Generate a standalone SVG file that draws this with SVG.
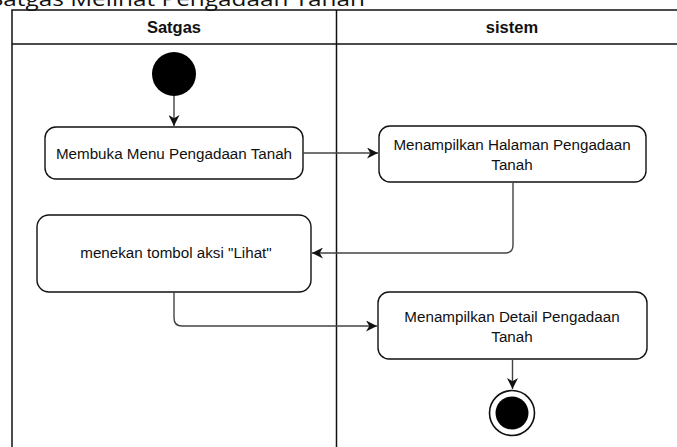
<svg xmlns="http://www.w3.org/2000/svg" width="677" height="447" viewBox="0 0 677 447">
  <style>
    .lane { fill: none; stroke: #111; stroke-width: 1.5; }
    .head { font-family: "Liberation Sans", Arial, sans-serif; font-size: 16.5px; font-weight: bold; fill: #111; text-anchor: middle; }
    .act rect { fill: #fff; stroke: #111; stroke-width: 1.4; }
    .act text { font-family: "Liberation Sans", Arial, sans-serif; font-size: 15.2px; fill: #111; text-anchor: middle; }
    .flow { fill: none; stroke: #444; stroke-width: 1.4; }
    .title { font-family: "Open Sans", "Liberation Sans", sans-serif; font-size: 20px; fill: #111; }
  </style>
  <defs>
    <marker id="arrow" viewBox="0 0 10 10" refX="10" refY="5" markerWidth="11" markerHeight="11" markerUnits="userSpaceOnUse" orient="auto">
      <path d="M0,0 L10,5 L0,10 L3,5 Z" fill="#111"/>
    </marker>
  </defs>
  <rect width="677" height="447" fill="#fff"/>

  <!-- page caption, clipped by the top edge -->
  <text class="title" x="-10" y="6" textLength="375" lengthAdjust="spacingAndGlyphs">Satgas Melihat Pengadaan Tanah</text>

  <!-- swimlane frame -->
  <g id="swimlanes">
    <path class="lane" d="M12,447 V10 H690"/>
    <path class="lane" d="M12,44 H690"/>
    <path class="lane" d="M336.5,10 V447"/>
    <text class="head" x="174" y="33">Satgas</text>
    <text class="head" x="512" y="33">sistem</text>
  </g>

  <g id="start">
    <circle cx="174" cy="74" r="22" fill="#000"/>
  </g>

  <g id="membuka-menu" class="act">
    <rect x="45" y="127" width="258" height="52" rx="11"/>
    <text x="174" y="159">Membuka Menu Pengadaan Tanah</text>
  </g>

  <g id="tampil-halaman" class="act">
    <rect x="379" y="126" width="267" height="56" rx="11"/>
    <text x="512" y="150">Menampilkan Halaman Pengadaan</text>
    <text x="512" y="170">Tanah</text>
  </g>

  <g id="tekan-lihat" class="act">
    <rect x="37" y="215" width="274" height="77" rx="12"/>
    <text x="176" y="258">menekan tombol aksi "Lihat"</text>
  </g>

  <g id="tampil-detail" class="act">
    <rect x="378" y="292" width="269" height="67" rx="11"/>
    <text x="512" y="322">Menampilkan Detail Pengadaan</text>
    <text x="512" y="342">Tanah</text>
  </g>

  <g id="end">
    <circle cx="512" cy="413" r="22.5" fill="#fff" stroke="#111" stroke-width="1.6"/>
    <circle cx="512" cy="413" r="16.5" fill="#000"/>
  </g>

  <g id="connectors">
    <path class="flow" d="M174,96 V126" marker-end="url(#arrow)"/>
    <path class="flow" d="M303,153 H378" marker-end="url(#arrow)"/>
    <path class="flow" d="M513,182 V245 Q513,253 505,253 H312" marker-end="url(#arrow)"/>
    <path class="flow" d="M174,292 V318 Q174,326 182,326 H377" marker-end="url(#arrow)"/>
    <path class="flow" d="M512.5,359 V389" marker-end="url(#arrow)"/>
  </g>
</svg>
